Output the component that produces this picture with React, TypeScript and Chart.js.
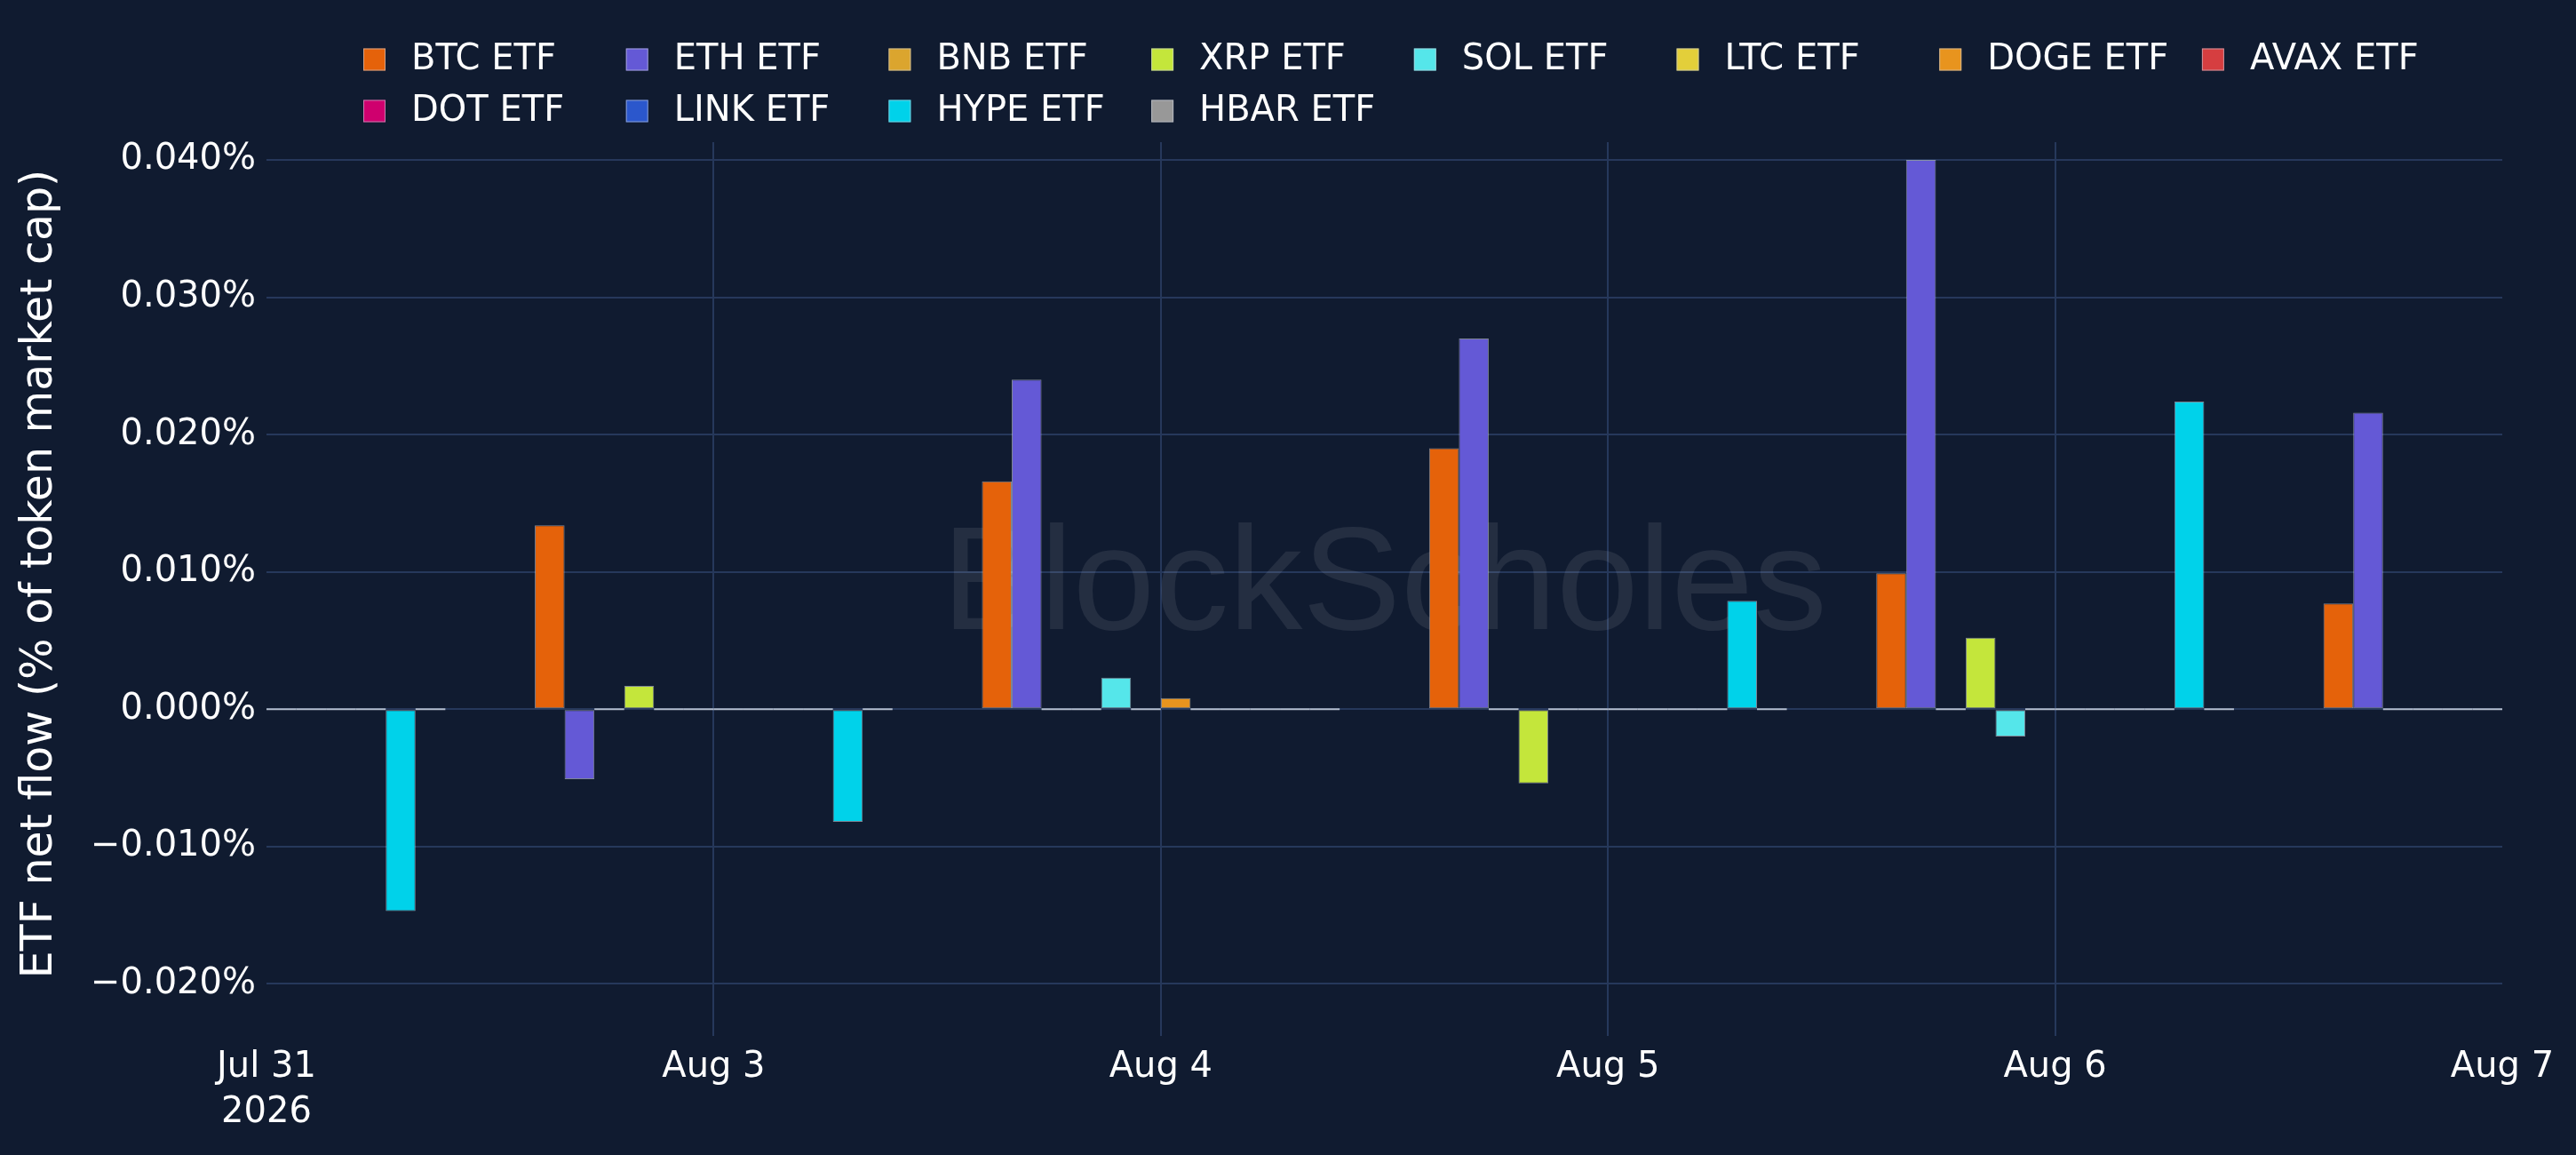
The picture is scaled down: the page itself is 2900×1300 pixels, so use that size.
import React, { useEffect, useRef } from "react";
import { Chart, registerables } from "chart.js";

Chart.register(...registerables);

// ---------- data ----------
// business-day positions: Jul 31, Aug 3, Aug 4, Aug 5, Aug 6, Aug 7
const DAY_POSITIONS = [0, 1, 2, 3, 4, 5];
const X_TICK_LABELS: (string | string[])[] = [["Jul 31", "2026"], "Aug 3", "Aug 4", "Aug 5", "Aug 6", "Aug 7"];

const SERIES_NAMES = [
  "BTC ETF", "ETH ETF", "BNB ETF", "XRP ETF", "SOL ETF", "LTC ETF",
  "DOGE ETF", "AVAX ETF", "DOT ETF", "LINK ETF", "HYPE ETF", "HBAR ETF",
];
const SERIES_COLORS = [
  "#e5620a", "#6459d6", "#dba52e", "#c4e63b", "#55e6ea", "#e3cf3a",
  "#e8941e", "#d63e40", "#cf006e", "#2b57cc", "#00d2ea", "#989898",
];

// values in % of token market cap
const BTC_ETF = [0, 0.0134, 0.0166, 0.019, 0.0099, 0.0077];
const ETH_ETF = [0, -0.0051, 0.024, 0.027, 0.04, 0.0216];
const BNB_ETF = [0, 0, 0, 0, 0, 0];
const XRP_ETF = [0, 0.0017, 0, -0.0054, 0.0052, 0];
const SOL_ETF = [0, 0, 0.0023, 0, -0.002, 0];
const LTC_ETF = [0, 0, 0, 0, 0, 0];
const DOGE_ETF = [0, 0, 0.0008, 0, 0, 0];
const AVAX_ETF = [0, 0, 0, 0, 0, 0];
const DOT_ETF = [0, 0, 0, 0, 0, 0];
const LINK_ETF = [0, 0, 0, 0, 0, 0];
const HYPE_ETF = [-0.0147, -0.0082, 0, 0.0079, 0.0224, 0];
const HBAR_ETF = [0, 0, 0, 0, 0, 0];

const SERIES_VALUES = [
  BTC_ETF, ETH_ETF, BNB_ETF, XRP_ETF, SOL_ETF, LTC_ETF,
  DOGE_ETF, AVAX_ETF, DOT_ETF, LINK_ETF, HYPE_ETF, HBAR_ETF,
];

const Y_MIN = -0.0238;
const Y_MAX = 0.0413;
const Y_STEP = 0.01;
const Y_TITLE = "ETF net flow (% of token market cap)";
const WATERMARK = "BlockScholes";

// ---------- style ----------
const BG = "#101b30";
const GRID = "#26385b";
const TEXT = "#ffffff";
const FONT = "'DejaVu Sans', Verdana, sans-serif";
const BAR_EDGE = "rgba(215,220,232,0.55)";
const ZERO_EDGE = "rgba(205,212,225,0.85)";

function fmtPct(v: number): string {
  if (Math.abs(v) < 1e-9) return "0.000%";
  const s = Math.abs(v).toFixed(3) + "%";
  return v < 0 ? "\u2212" + s : s;
}

const decorPlugin = {
  id: "decor",
  beforeDraw(chart: any) {
    const ctx = chart.ctx;
    ctx.save();
    ctx.fillStyle = BG;
    ctx.fillRect(0, 0, chart.width, chart.height);
    ctx.restore();
  },
  beforeDatasetsDraw(chart: any) {
    const { ctx, chartArea } = chart;
    ctx.save();
    ctx.beginPath();
    ctx.rect(chartArea.left, chartArea.top, chartArea.width, chartArea.height);
    ctx.clip();
    ctx.font = "166px 'Liberation Sans', Arial, sans-serif";
    ctx.fillStyle = "rgba(255,255,255,0.085)";
    ctx.textAlign = "center";
    ctx.textBaseline = "alphabetic";
    ctx.fillText(WATERMARK, (chartArea.left + chartArea.right) / 2, 708, 1008);
    ctx.restore();
  },
  afterDatasetsDraw(chart: any) {
    const { ctx, chartArea } = chart;
    const y0 = chart.scales.y.getPixelForValue(0);
    ctx.save();
    ctx.beginPath();
    ctx.rect(chartArea.left, chartArea.top, chartArea.width, chartArea.height);
    ctx.clip();
    ctx.strokeStyle = ZERO_EDGE;
    ctx.lineWidth = 2;
    chart.data.datasets.forEach((ds: any, i: number) => {
      const meta = chart.getDatasetMeta(i);
      meta.data.forEach((el: any, j: number) => {
        const v = ds.data[j].y;
        if (v === 0) {
          ctx.beginPath();
          ctx.moveTo(el.x - el.width / 2, y0);
          ctx.lineTo(el.x + el.width / 2, y0);
          ctx.stroke();
        }
      });
    });
    ctx.restore();
  },
  afterDraw(chart: any) {
    const ctx = chart.ctx;
    // legend (grid of equal-width columns, like the original)
    ctx.save();
    ctx.font = `40px ${FONT}`;
    ctx.textAlign = "left";
    ctx.textBaseline = "middle";
    chart.data.datasets.forEach((ds: any, i: number) => {
      const col = i % 8;
      const row = Math.floor(i / 8);
      const x = 409 + col * 295.7;
      const y = 67 + row * 58;
      ctx.fillStyle = ds.backgroundColor;
      ctx.fillRect(x, y - 12.5, 25, 25);
      ctx.strokeStyle = "rgba(200,206,218,0.6)";
      ctx.lineWidth = 1;
      ctx.strokeRect(x + 0.5, y - 12, 24, 24);
      ctx.fillStyle = TEXT;
      ctx.fillText(ds.label, x + 54, y + 1);
    });
    ctx.restore();
    // y-axis title
    ctx.save();
    ctx.translate(45, 646);
    ctx.rotate(-Math.PI / 2);
    ctx.font = `49px ${FONT}`;
    ctx.fillStyle = TEXT;
    ctx.textAlign = "center";
    ctx.textBaseline = "middle";
    ctx.fillText(Y_TITLE, 0, 0);
    ctx.restore();
  },
};

export default function App() {
  const ref = useRef<HTMLCanvasElement>(null);

  useEffect(() => {
    document.body.style.margin = "0";
    document.body.style.background = BG;
    const canvas = ref.current;
    if (!canvas) return;

    const datasets = SERIES_NAMES.map((name, i) => ({
      label: name,
      data: DAY_POSITIONS.map((x, j) => ({ x, y: SERIES_VALUES[i][j] })),
      backgroundColor: SERIES_COLORS[i],
      borderColor: BAR_EDGE,
      borderWidth: 1,
      borderSkipped: false as any,
      categoryPercentage: 0.8,
      barPercentage: 1.0,
      clip: 0,
    }));

    const chart = new Chart(canvas, {
      type: "bar",
      data: { datasets },
      plugins: [decorPlugin],
      options: {
        animation: false,
        responsive: false,
        devicePixelRatio: 1,
        events: [],
        layout: { padding: { top: 160, right: 83, bottom: 0, left: 0 } },
        plugins: {
          legend: { display: false },
          tooltip: { enabled: false },
          title: { display: false },
        },
        scales: {
          x: {
            type: "linear",
            min: 0,
            max: 5,
            offset: false,
            afterFit(scale: any) {
              scale.height = 134;
            },
            grid: {
              offset: false,
              color: (c: any) =>
                c.tick && (c.tick.value === 0 || c.tick.value === 5) ? "rgba(0,0,0,0)" : GRID,
              lineWidth: 2,
              drawTicks: false,
            },
            border: { display: false },
            ticks: {
              stepSize: 1,
              autoSkip: false,
              maxRotation: 0,
              minRotation: 0,
              padding: 10,
              color: TEXT,
              font: { family: FONT, size: 40, lineHeight: 1.275 },
              callback: (v: any) => X_TICK_LABELS[Math.round(Number(v))] as any,
            },
          },
          y: {
            min: Y_MIN,
            max: Y_MAX,
            afterFit(scale: any) {
              scale.width = 300;
            },
            grid: { color: GRID, lineWidth: 2, drawTicks: false },
            border: { display: false },
            ticks: {
              stepSize: Y_STEP,
              includeBounds: false,
              padding: 12,
              color: TEXT,
              font: { family: FONT, size: 40 },
              callback: (v: any) => fmtPct(Number(v)),
            },
          },
        },
      } as any,
    });

    return () => chart.destroy();
  }, []);

  return (
    <canvas
      ref={ref}
      width={2900}
      height={1300}
      style={{ display: "block", width: 2900, height: 1300 }}
    />
  );
}
